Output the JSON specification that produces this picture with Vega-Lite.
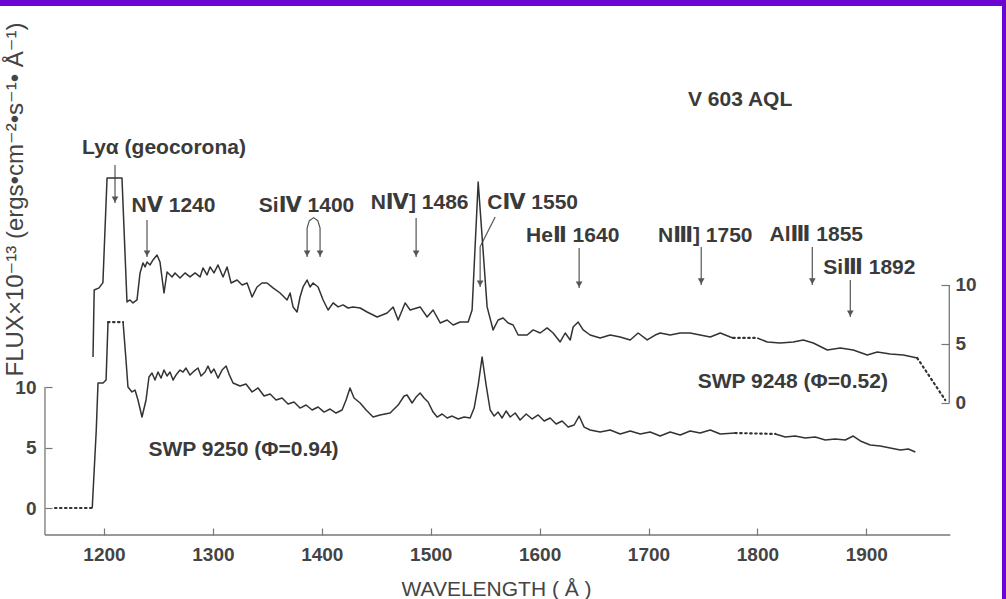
{
  "$schema": "https://vega.github.io/schema/vega-lite/v6.json",
  "width": 1002,
  "height": 593,
  "autosize": {"type": "none"},
  "padding": {"left": 0, "top": 6, "right": 4, "bottom": 0},
  "background": "#6a05d2",
  "config": {
    "view": {"fill": "white", "stroke": null},
    "font": "Liberation Sans, DejaVu Sans, Noto Sans CJK JP"
  },
  "datasets": {
    "lower": [
      {"seg": "a", "k": "d", "wl": 1155.0, "f": 0},
      {"seg": "a", "k": "d", "wl": 1189.2, "f": 0},
      {"seg": "b", "k": "s", "wl": 1189.2, "f": 0},
      {"seg": "b", "k": "s", "wl": 1192.9, "f": 6.45},
      {"seg": "b", "k": "s", "wl": 1194.5, "f": 10.33},
      {"seg": "b", "k": "s", "wl": 1199.1, "f": 10.33},
      {"seg": "b", "k": "s", "wl": 1201.9, "f": 10.58},
      {"seg": "b", "k": "s", "wl": 1203.7, "f": 15.37},
      {"seg": "c", "k": "d", "wl": 1203.7, "f": 15.37},
      {"seg": "c", "k": "d", "wl": 1217.5, "f": 15.37},
      {"seg": "e", "k": "s", "wl": 1217.5, "f": 15.37},
      {"seg": "e", "k": "s", "wl": 1220.2, "f": 12.23},
      {"seg": "e", "k": "s", "wl": 1222.0, "f": 10.0},
      {"seg": "e", "k": "s", "wl": 1225.7, "f": 9.59},
      {"seg": "e", "k": "s", "wl": 1228.5, "f": 9.75},
      {"seg": "e", "k": "s", "wl": 1231.2, "f": 8.93},
      {"seg": "e", "k": "s", "wl": 1234.9, "f": 7.52},
      {"seg": "e", "k": "s", "wl": 1238.6, "f": 8.93},
      {"seg": "e", "k": "s", "wl": 1241.3, "f": 10.83},
      {"seg": "e", "k": "s", "wl": 1244.1, "f": 11.16},
      {"seg": "e", "k": "s", "wl": 1246.8, "f": 10.58},
      {"seg": "e", "k": "s", "wl": 1249.6, "f": 11.24},
      {"seg": "e", "k": "s", "wl": 1252.4, "f": 10.74},
      {"seg": "e", "k": "s", "wl": 1255.1, "f": 11.40},
      {"seg": "e", "k": "s", "wl": 1257.9, "f": 10.91},
      {"seg": "e", "k": "s", "wl": 1260.6, "f": 11.24},
      {"seg": "e", "k": "s", "wl": 1263.4, "f": 10.58},
      {"seg": "e", "k": "s", "wl": 1266.1, "f": 10.99},
      {"seg": "e", "k": "s", "wl": 1269.8, "f": 11.40},
      {"seg": "e", "k": "s", "wl": 1272.6, "f": 11.24},
      {"seg": "e", "k": "s", "wl": 1275.3, "f": 11.57},
      {"seg": "e", "k": "s", "wl": 1279.0, "f": 10.99},
      {"seg": "e", "k": "s", "wl": 1282.7, "f": 11.32},
      {"seg": "e", "k": "s", "wl": 1286.3, "f": 11.57},
      {"seg": "e", "k": "s", "wl": 1289.1, "f": 10.91},
      {"seg": "e", "k": "s", "wl": 1292.8, "f": 11.24},
      {"seg": "e", "k": "s", "wl": 1295.5, "f": 11.73},
      {"seg": "e", "k": "s", "wl": 1298.3, "f": 11.16},
      {"seg": "e", "k": "s", "wl": 1301.0, "f": 11.49},
      {"seg": "e", "k": "s", "wl": 1304.7, "f": 10.74},
      {"seg": "e", "k": "s", "wl": 1308.4, "f": 11.40},
      {"seg": "e", "k": "s", "wl": 1312.1, "f": 11.73},
      {"seg": "e", "k": "s", "wl": 1314.8, "f": 11.07},
      {"seg": "e", "k": "s", "wl": 1318.5, "f": 10.33},
      {"seg": "e", "k": "s", "wl": 1324.9, "f": 10.08},
      {"seg": "e", "k": "s", "wl": 1330.4, "f": 10.25},
      {"seg": "e", "k": "s", "wl": 1336.0, "f": 9.59},
      {"seg": "e", "k": "s", "wl": 1341.5, "f": 9.92},
      {"seg": "e", "k": "s", "wl": 1347.0, "f": 9.26},
      {"seg": "e", "k": "s", "wl": 1352.5, "f": 9.42},
      {"seg": "e", "k": "s", "wl": 1358.0, "f": 8.93},
      {"seg": "e", "k": "s", "wl": 1363.5, "f": 9.09},
      {"seg": "e", "k": "s", "wl": 1369.0, "f": 8.59},
      {"seg": "e", "k": "s", "wl": 1374.5, "f": 8.76},
      {"seg": "e", "k": "s", "wl": 1380.0, "f": 8.26},
      {"seg": "e", "k": "s", "wl": 1385.6, "f": 8.51},
      {"seg": "e", "k": "s", "wl": 1391.1, "f": 8.10},
      {"seg": "e", "k": "s", "wl": 1396.6, "f": 8.35},
      {"seg": "e", "k": "s", "wl": 1402.1, "f": 7.93},
      {"seg": "e", "k": "s", "wl": 1407.6, "f": 8.18},
      {"seg": "e", "k": "s", "wl": 1413.1, "f": 7.85},
      {"seg": "e", "k": "s", "wl": 1418.6, "f": 8.10},
      {"seg": "e", "k": "s", "wl": 1422.3, "f": 8.93},
      {"seg": "e", "k": "s", "wl": 1425.9, "f": 9.92},
      {"seg": "e", "k": "s", "wl": 1429.6, "f": 9.09},
      {"seg": "e", "k": "s", "wl": 1435.2, "f": 8.68},
      {"seg": "e", "k": "s", "wl": 1440.7, "f": 8.10},
      {"seg": "e", "k": "s", "wl": 1447.1, "f": 7.52},
      {"seg": "e", "k": "s", "wl": 1453.5, "f": 7.69},
      {"seg": "e", "k": "s", "wl": 1462.7, "f": 7.85},
      {"seg": "e", "k": "s", "wl": 1470.1, "f": 8.51},
      {"seg": "e", "k": "s", "wl": 1475.6, "f": 9.26},
      {"seg": "e", "k": "s", "wl": 1478.3, "f": 9.34},
      {"seg": "e", "k": "s", "wl": 1482.9, "f": 8.68},
      {"seg": "e", "k": "s", "wl": 1486.6, "f": 9.17},
      {"seg": "e", "k": "s", "wl": 1490.3, "f": 9.50},
      {"seg": "e", "k": "s", "wl": 1493.9, "f": 9.09},
      {"seg": "e", "k": "s", "wl": 1497.6, "f": 8.76},
      {"seg": "e", "k": "s", "wl": 1502.2, "f": 7.93},
      {"seg": "e", "k": "s", "wl": 1505.9, "f": 7.52},
      {"seg": "e", "k": "s", "wl": 1510.5, "f": 7.77},
      {"seg": "e", "k": "s", "wl": 1515.1, "f": 7.44},
      {"seg": "e", "k": "s", "wl": 1519.7, "f": 7.60},
      {"seg": "e", "k": "s", "wl": 1525.2, "f": 7.36},
      {"seg": "e", "k": "s", "wl": 1530.7, "f": 7.52},
      {"seg": "e", "k": "s", "wl": 1536.2, "f": 7.44},
      {"seg": "e", "k": "s", "wl": 1539.9, "f": 8.26},
      {"seg": "e", "k": "s", "wl": 1543.6, "f": 10.16},
      {"seg": "e", "k": "s", "wl": 1547.2, "f": 12.48},
      {"seg": "e", "k": "s", "wl": 1550.9, "f": 10.16},
      {"seg": "e", "k": "s", "wl": 1554.6, "f": 8.10},
      {"seg": "e", "k": "s", "wl": 1558.3, "f": 7.60},
      {"seg": "e", "k": "s", "wl": 1561.9, "f": 7.93},
      {"seg": "e", "k": "s", "wl": 1565.6, "f": 7.44},
      {"seg": "e", "k": "s", "wl": 1569.3, "f": 8.02},
      {"seg": "e", "k": "s", "wl": 1573.0, "f": 7.52},
      {"seg": "e", "k": "s", "wl": 1577.6, "f": 7.85},
      {"seg": "e", "k": "s", "wl": 1582.1, "f": 7.27},
      {"seg": "e", "k": "s", "wl": 1587.7, "f": 7.77},
      {"seg": "e", "k": "s", "wl": 1593.2, "f": 7.36},
      {"seg": "e", "k": "s", "wl": 1598.7, "f": 7.69},
      {"seg": "e", "k": "s", "wl": 1604.2, "f": 7.19},
      {"seg": "e", "k": "s", "wl": 1609.7, "f": 7.44},
      {"seg": "e", "k": "s", "wl": 1615.2, "f": 6.94},
      {"seg": "e", "k": "s", "wl": 1620.7, "f": 7.19},
      {"seg": "e", "k": "s", "wl": 1626.2, "f": 6.69},
      {"seg": "e", "k": "s", "wl": 1631.7, "f": 6.86},
      {"seg": "e", "k": "s", "wl": 1636.3, "f": 7.60},
      {"seg": "e", "k": "s", "wl": 1640.9, "f": 6.69},
      {"seg": "e", "k": "s", "wl": 1646.4, "f": 6.45},
      {"seg": "e", "k": "s", "wl": 1655.6, "f": 6.28},
      {"seg": "e", "k": "s", "wl": 1664.8, "f": 6.45},
      {"seg": "e", "k": "s", "wl": 1674.0, "f": 6.12},
      {"seg": "e", "k": "s", "wl": 1683.2, "f": 6.37},
      {"seg": "e", "k": "s", "wl": 1692.4, "f": 6.12},
      {"seg": "e", "k": "s", "wl": 1701.5, "f": 6.28},
      {"seg": "e", "k": "s", "wl": 1710.7, "f": 5.95},
      {"seg": "e", "k": "s", "wl": 1719.9, "f": 6.28},
      {"seg": "e", "k": "s", "wl": 1729.1, "f": 6.03},
      {"seg": "e", "k": "s", "wl": 1738.2, "f": 6.37},
      {"seg": "e", "k": "s", "wl": 1747.4, "f": 6.20},
      {"seg": "e", "k": "s", "wl": 1756.7, "f": 6.45},
      {"seg": "e", "k": "s", "wl": 1765.9, "f": 6.12},
      {"seg": "e", "k": "s", "wl": 1779.6, "f": 6.20},
      {"seg": "g", "k": "d", "wl": 1779.6, "f": 6.20},
      {"seg": "g", "k": "d", "wl": 1816.4, "f": 6.12},
      {"seg": "h", "k": "s", "wl": 1816.4, "f": 6.12},
      {"seg": "h", "k": "s", "wl": 1825.6, "f": 5.87},
      {"seg": "h", "k": "s", "wl": 1834.7, "f": 5.95},
      {"seg": "h", "k": "s", "wl": 1843.9, "f": 5.78},
      {"seg": "h", "k": "s", "wl": 1853.1, "f": 5.87},
      {"seg": "h", "k": "s", "wl": 1862.3, "f": 5.62},
      {"seg": "h", "k": "s", "wl": 1871.5, "f": 5.70},
      {"seg": "h", "k": "s", "wl": 1880.7, "f": 5.62},
      {"seg": "h", "k": "s", "wl": 1888.0, "f": 5.95},
      {"seg": "h", "k": "s", "wl": 1894.5, "f": 5.54},
      {"seg": "h", "k": "s", "wl": 1903.6, "f": 5.21},
      {"seg": "h", "k": "s", "wl": 1912.8, "f": 5.12},
      {"seg": "h", "k": "s", "wl": 1922.0, "f": 4.96},
      {"seg": "h", "k": "s", "wl": 1931.2, "f": 4.79},
      {"seg": "h", "k": "s", "wl": 1938.6, "f": 4.88},
      {"seg": "h", "k": "s", "wl": 1945.0, "f": 4.63}
    ],
    "upper": [
      {"seg": "a", "k": "s", "wl": 1189.9, "f": 3.90},
      {"seg": "a", "k": "s", "wl": 1191.0, "f": 9.58},
      {"seg": "a", "k": "s", "wl": 1195.5, "f": 9.75},
      {"seg": "a", "k": "s", "wl": 1199.0, "f": 10.2},
      {"seg": "a", "k": "s", "wl": 1202.8, "f": 19.07},
      {"seg": "a", "k": "s", "wl": 1216.5, "f": 19.07},
      {"seg": "a", "k": "s", "wl": 1221.1, "f": 8.56},
      {"seg": "a", "k": "s", "wl": 1223.9, "f": 8.73},
      {"seg": "a", "k": "s", "wl": 1226.6, "f": 8.48},
      {"seg": "a", "k": "s", "wl": 1230.3, "f": 8.73},
      {"seg": "a", "k": "s", "wl": 1233.1, "f": 11.02},
      {"seg": "a", "k": "s", "wl": 1235.8, "f": 11.87},
      {"seg": "a", "k": "s", "wl": 1237.7, "f": 11.53},
      {"seg": "a", "k": "s", "wl": 1239.5, "f": 11.95},
      {"seg": "a", "k": "s", "wl": 1242.3, "f": 11.70},
      {"seg": "a", "k": "s", "wl": 1245.0, "f": 12.12},
      {"seg": "a", "k": "s", "wl": 1248.7, "f": 12.54},
      {"seg": "a", "k": "s", "wl": 1251.4, "f": 11.95},
      {"seg": "a", "k": "s", "wl": 1255.1, "f": 9.32},
      {"seg": "a", "k": "s", "wl": 1257.9, "f": 11.10},
      {"seg": "a", "k": "s", "wl": 1262.5, "f": 10.68},
      {"seg": "a", "k": "s", "wl": 1265.2, "f": 11.02},
      {"seg": "a", "k": "s", "wl": 1269.8, "f": 10.59},
      {"seg": "a", "k": "s", "wl": 1274.4, "f": 11.02},
      {"seg": "a", "k": "s", "wl": 1279.0, "f": 10.68},
      {"seg": "a", "k": "s", "wl": 1283.6, "f": 11.02},
      {"seg": "a", "k": "s", "wl": 1288.2, "f": 10.68},
      {"seg": "a", "k": "s", "wl": 1290.9, "f": 11.44},
      {"seg": "a", "k": "s", "wl": 1294.6, "f": 10.85},
      {"seg": "a", "k": "s", "wl": 1297.4, "f": 11.53},
      {"seg": "a", "k": "s", "wl": 1301.0, "f": 11.02},
      {"seg": "a", "k": "s", "wl": 1304.7, "f": 11.70},
      {"seg": "a", "k": "s", "wl": 1309.3, "f": 10.68},
      {"seg": "a", "k": "s", "wl": 1313.0, "f": 11.53},
      {"seg": "a", "k": "s", "wl": 1316.7, "f": 10.17},
      {"seg": "a", "k": "s", "wl": 1322.2, "f": 10.42},
      {"seg": "a", "k": "s", "wl": 1326.8, "f": 10.00},
      {"seg": "a", "k": "s", "wl": 1331.4, "f": 10.17},
      {"seg": "a", "k": "s", "wl": 1336.0, "f": 8.98},
      {"seg": "a", "k": "s", "wl": 1340.5, "f": 9.83},
      {"seg": "a", "k": "s", "wl": 1345.1, "f": 10.17},
      {"seg": "a", "k": "s", "wl": 1349.7, "f": 10.17},
      {"seg": "a", "k": "s", "wl": 1355.2, "f": 9.75},
      {"seg": "a", "k": "s", "wl": 1361.7, "f": 9.32},
      {"seg": "a", "k": "s", "wl": 1368.1, "f": 8.73},
      {"seg": "a", "k": "s", "wl": 1370.9, "f": 9.32},
      {"seg": "a", "k": "s", "wl": 1373.6, "f": 8.14},
      {"seg": "a", "k": "s", "wl": 1377.3, "f": 7.71},
      {"seg": "a", "k": "s", "wl": 1380.0, "f": 8.98},
      {"seg": "a", "k": "s", "wl": 1382.8, "f": 9.83},
      {"seg": "a", "k": "s", "wl": 1386.5, "f": 10.42},
      {"seg": "a", "k": "s", "wl": 1389.2, "f": 9.83},
      {"seg": "a", "k": "s", "wl": 1392.0, "f": 10.17},
      {"seg": "a", "k": "s", "wl": 1396.6, "f": 9.83},
      {"seg": "a", "k": "s", "wl": 1401.2, "f": 8.73},
      {"seg": "a", "k": "s", "wl": 1405.8, "f": 7.88},
      {"seg": "a", "k": "s", "wl": 1410.4, "f": 8.48},
      {"seg": "a", "k": "s", "wl": 1415.0, "f": 8.14},
      {"seg": "a", "k": "s", "wl": 1419.5, "f": 8.31},
      {"seg": "a", "k": "s", "wl": 1424.1, "f": 8.05},
      {"seg": "a", "k": "s", "wl": 1428.7, "f": 8.14},
      {"seg": "a", "k": "s", "wl": 1435.2, "f": 8.05},
      {"seg": "a", "k": "s", "wl": 1441.6, "f": 7.71},
      {"seg": "a", "k": "s", "wl": 1450.8, "f": 7.29},
      {"seg": "a", "k": "s", "wl": 1460.0, "f": 7.63},
      {"seg": "a", "k": "s", "wl": 1465.5, "f": 8.14},
      {"seg": "a", "k": "s", "wl": 1470.1, "f": 7.03},
      {"seg": "a", "k": "s", "wl": 1476.5, "f": 8.48},
      {"seg": "a", "k": "s", "wl": 1481.1, "f": 7.88},
      {"seg": "a", "k": "s", "wl": 1490.3, "f": 8.14},
      {"seg": "a", "k": "s", "wl": 1496.7, "f": 7.29},
      {"seg": "a", "k": "s", "wl": 1502.2, "f": 7.88},
      {"seg": "a", "k": "s", "wl": 1508.7, "f": 6.78},
      {"seg": "a", "k": "s", "wl": 1515.1, "f": 7.03},
      {"seg": "a", "k": "s", "wl": 1520.6, "f": 6.61},
      {"seg": "a", "k": "s", "wl": 1527.0, "f": 6.86},
      {"seg": "a", "k": "s", "wl": 1534.4, "f": 6.86},
      {"seg": "a", "k": "s", "wl": 1538.0, "f": 7.88},
      {"seg": "a", "k": "s", "wl": 1543.6, "f": 18.73},
      {"seg": "a", "k": "s", "wl": 1551.8, "f": 8.14},
      {"seg": "a", "k": "s", "wl": 1557.3, "f": 6.19},
      {"seg": "a", "k": "s", "wl": 1561.9, "f": 7.03},
      {"seg": "a", "k": "s", "wl": 1566.5, "f": 7.20},
      {"seg": "a", "k": "s", "wl": 1571.1, "f": 6.78},
      {"seg": "a", "k": "s", "wl": 1575.7, "f": 6.61},
      {"seg": "a", "k": "s", "wl": 1580.3, "f": 5.76},
      {"seg": "a", "k": "s", "wl": 1588.6, "f": 5.76},
      {"seg": "a", "k": "s", "wl": 1594.1, "f": 6.19},
      {"seg": "a", "k": "s", "wl": 1600.5, "f": 5.93},
      {"seg": "a", "k": "s", "wl": 1606.9, "f": 6.36},
      {"seg": "a", "k": "s", "wl": 1612.4, "f": 5.93},
      {"seg": "a", "k": "s", "wl": 1618.9, "f": 5.17},
      {"seg": "a", "k": "s", "wl": 1623.5, "f": 5.93},
      {"seg": "a", "k": "s", "wl": 1628.1, "f": 5.34},
      {"seg": "a", "k": "s", "wl": 1630.8, "f": 6.44},
      {"seg": "a", "k": "s", "wl": 1635.4, "f": 6.86},
      {"seg": "a", "k": "s", "wl": 1640.0, "f": 6.19},
      {"seg": "a", "k": "s", "wl": 1646.4, "f": 5.76},
      {"seg": "a", "k": "s", "wl": 1655.6, "f": 5.51},
      {"seg": "a", "k": "s", "wl": 1664.8, "f": 5.76},
      {"seg": "a", "k": "s", "wl": 1674.0, "f": 5.59},
      {"seg": "a", "k": "s", "wl": 1683.2, "f": 5.34},
      {"seg": "a", "k": "s", "wl": 1690.5, "f": 5.93},
      {"seg": "a", "k": "s", "wl": 1698.8, "f": 5.34},
      {"seg": "a", "k": "s", "wl": 1706.1, "f": 5.76},
      {"seg": "a", "k": "s", "wl": 1710.7, "f": 5.93},
      {"seg": "a", "k": "s", "wl": 1719.9, "f": 5.76},
      {"seg": "a", "k": "s", "wl": 1729.1, "f": 5.93},
      {"seg": "a", "k": "s", "wl": 1738.2, "f": 5.93},
      {"seg": "a", "k": "s", "wl": 1747.4, "f": 5.76},
      {"seg": "a", "k": "s", "wl": 1756.7, "f": 5.59},
      {"seg": "a", "k": "s", "wl": 1765.9, "f": 5.93},
      {"seg": "a", "k": "s", "wl": 1775.1, "f": 5.59},
      {"seg": "a", "k": "s", "wl": 1777.8, "f": 5.51},
      {"seg": "b", "k": "d", "wl": 1777.8, "f": 5.51},
      {"seg": "b", "k": "d", "wl": 1799.8, "f": 5.51},
      {"seg": "c", "k": "s", "wl": 1799.8, "f": 5.51},
      {"seg": "c", "k": "s", "wl": 1809.0, "f": 5.17},
      {"seg": "c", "k": "s", "wl": 1820.9, "f": 5.08},
      {"seg": "c", "k": "s", "wl": 1832.9, "f": 5.17},
      {"seg": "c", "k": "s", "wl": 1842.1, "f": 5.34},
      {"seg": "c", "k": "s", "wl": 1851.3, "f": 5.08},
      {"seg": "c", "k": "s", "wl": 1864.2, "f": 4.49},
      {"seg": "c", "k": "s", "wl": 1876.1, "f": 4.66},
      {"seg": "c", "k": "s", "wl": 1888.0, "f": 4.49},
      {"seg": "c", "k": "s", "wl": 1900.9, "f": 4.07},
      {"seg": "c", "k": "s", "wl": 1910.1, "f": 4.32},
      {"seg": "c", "k": "s", "wl": 1922.0, "f": 4.15},
      {"seg": "c", "k": "s", "wl": 1934.0, "f": 4.07},
      {"seg": "c", "k": "s", "wl": 1946.8, "f": 3.81},
      {"seg": "d", "k": "d", "wl": 1946.8, "f": 3.81},
      {"seg": "d", "k": "d", "wl": 1972.5, "f": 0.25}
    ],
    "axisX": [{"wl": 1145.8, "wl2": 1977.1, "f": -2.23}],
    "axisLeft": [{"wl": 1145.8, "f": -2.23, "f2": 10}],
    "axisRight": [{"wl": 1976.2, "f": 0, "f2": 10}],
    "labels": [
      {"wl": 1784.1, "f": 33.72, "t": "V 603 AQL"},
      {"wl": 1255.1, "f": 29.75, "t": "Lyα (geocorona)"},
      {"wl": 1263.8, "f": 24.96, "t": "NⅤ 1240"},
      {"wl": 1386.0, "f": 24.96, "t": "SiⅣ 1400"},
      {"wl": 1489.8, "f": 25.2, "t": "NⅣ] 1486"},
      {"wl": 1593.6, "f": 25.2, "t": "CⅣ 1550"},
      {"wl": 1630.4, "f": 22.48, "t": "HeⅡ 1640"},
      {"wl": 1752.1, "f": 22.48, "t": "NⅢ] 1750"},
      {"wl": 1854.1, "f": 22.56, "t": "AlⅢ 1855"},
      {"wl": 1902.8, "f": 19.83, "t": "SiⅢ 1892"},
      {"wl": 1832.5, "f": 10.41, "t": "SWP 9248 (Φ=0.52)"},
      {"wl": 1328.1, "f": 4.79, "t": "SWP 9250 (Φ=0.94)"}
    ],
    "shafts": [
      {"wl": 1210.1, "f": 28.35, "f2": 25.2},
      {"wl": 1239.5, "f": 23.8, "f2": 20.74},
      {"wl": 1386.5, "f": 23.14, "f2": 20.74},
      {"wl": 1398.4, "f": 23.14, "f2": 20.74},
      {"wl": 1486.6, "f": 23.97, "f2": 20.74},
      {"wl": 1545.4, "f": 21.6, "f2": 18.26},
      {"wl": 1636.3, "f": 21.49, "f2": 18.18},
      {"wl": 1748.4, "f": 21.57, "f2": 18.43},
      {"wl": 1850.4, "f": 21.57, "f2": 18.43},
      {"wl": 1885.3, "f": 18.84, "f2": 15.78}
    ],
    "bends": [
      {"id": "si4", "wl": 1386.5, "f": 23.14},
      {"id": "si4", "wl": 1388.6, "f": 23.75},
      {"id": "si4", "wl": 1392.5, "f": 24.0},
      {"id": "si4", "wl": 1396.3, "f": 23.75},
      {"id": "si4", "wl": 1398.4, "f": 23.14},
      {"id": "c4", "wl": 1559.2, "f": 24.05},
      {"id": "c4", "wl": 1545.4, "f": 21.6}
    ],
    "heads": [
      {"wl": 1210.1, "f": 25.5},
      {"wl": 1239.5, "f": 21.05},
      {"wl": 1386.5, "f": 21.05},
      {"wl": 1398.4, "f": 21.05},
      {"wl": 1486.6, "f": 21.05},
      {"wl": 1545.4, "f": 18.57},
      {"wl": 1636.3, "f": 18.49},
      {"wl": 1748.4, "f": 18.74},
      {"wl": 1850.4, "f": 18.74},
      {"wl": 1885.3, "f": 16.09}
    ]
  },
  "encoding": {
    "x": {
      "field": "wl",
      "type": "quantitative",
      "scale": {"domain": [1104.5, 2024.6], "nice": false, "zero": false},
      "axis": {
        "values": [1200, 1300, 1400, 1500, 1600, 1700, 1800, 1900],
        "format": "d",
        "offset": -64,
        "domain": false,
        "grid": false,
        "tickSize": -7,
        "tickColor": "#777",
        "tickWidth": 1.2,
        "labelPadding": 17,
        "labelFontSize": 19,
        "labelFontWeight": "bold",
        "labelColor": "#444",
        "title": "WAVELENGTH ( Å )",
        "titleFontSize": 21,
        "titleFontWeight": "normal",
        "titleColor": "#444",
        "titleX": 496,
        "titleY": 60,
        "titleAnchor": null,
        "titleAlign": "center",
        "titleBaseline": "alphabetic"
      }
    }
  },
  "layer": [
    {
      "encoding": {
        "y": {
          "field": "f",
          "type": "quantitative",
          "scale": {"domain": [-7.52, 41.49], "nice": false, "zero": false},
          "axis": {
            "orient": "left",
            "values": [0, 5, 10],
            "format": "d",
            "offset": -45,
            "domain": false,
            "grid": false,
            "tickSize": -7,
            "tickColor": "#777",
            "tickWidth": 1.2,
            "labelPadding": 16,
            "labelFontSize": 19,
            "labelFontWeight": "bold",
            "labelColor": "#444",
            "title": "FLUX×10⁻¹³ (ergs•cm⁻²•s⁻¹• Å⁻¹)",
            "titleFontSize": 24,
            "titleFontWeight": "normal",
            "titleColor": "#444",
            "titleAngle": -90,
            "titleX": -30,
            "titleY": 193,
            "titleAnchor": null,
            "titleAlign": "center",
            "titleBaseline": "middle"
          }
        }
      },
      "layer": [
        {
          "data": {"name": "axisX"},
          "mark": {"type": "rule", "color": "#777", "strokeWidth": 1.3},
          "encoding": {"x2": {"field": "wl2"}}
        },
        {
          "data": {"name": "axisLeft"},
          "mark": {"type": "rule", "color": "#777", "strokeWidth": 1.3},
          "encoding": {"y2": {"field": "f2"}}
        },
        {
          "data": {"name": "lower"},
          "transform": [{"filter": "datum.k == 's'"}],
          "mark": {"type": "line", "color": "#333", "strokeWidth": 1.5, "strokeJoin": "round"},
          "encoding": {"detail": {"field": "seg"}, "order": {"value": null}}
        },
        {
          "data": {"name": "lower"},
          "transform": [{"filter": "datum.k == 'd'"}],
          "mark": {"type": "line", "color": "#333", "strokeWidth": 2.2, "strokeDash": [1.5, 3.5], "strokeCap": "round"},
          "encoding": {"detail": {"field": "seg"}, "order": {"value": null}}
        },
        {
          "data": {"name": "shafts"},
          "mark": {"type": "rule", "color": "#555", "strokeWidth": 1.2},
          "encoding": {"y2": {"field": "f2"}}
        },
        {
          "data": {"name": "bends"},
          "mark": {"type": "line", "color": "#555", "strokeWidth": 1.2},
          "encoding": {"detail": {"field": "id"}, "order": {"value": null}}
        },
        {
          "data": {"name": "heads"},
          "mark": {"type": "point", "shape": "triangle-down", "filled": true, "color": "#555", "size": 45, "opacity": 1}
        },
        {
          "data": {"name": "labels"},
          "mark": {"type": "text", "fontSize": 21, "fontWeight": "bold", "color": "#3a3a3a", "align": "center", "baseline": "middle"},
          "encoding": {"text": {"field": "t"}}
        }
      ]
    },
    {
      "encoding": {
        "y": {
          "field": "f",
          "type": "quantitative",
          "scale": {"domain": [-16.61, 33.64], "nice": false, "zero": false},
          "axis": {
            "orient": "right",
            "values": [0, 5, 10],
            "format": "d",
            "offset": -53,
            "domain": false,
            "grid": false,
            "tickSize": -8,
            "tickColor": "#777",
            "tickWidth": 1.2,
            "labelPadding": 14,
            "labelFontSize": 19,
            "labelFontWeight": "bold",
            "labelColor": "#444",
            "title": null
          }
        }
      },
      "layer": [
        {
          "data": {"name": "axisRight"},
          "mark": {"type": "rule", "color": "#777", "strokeWidth": 1.3},
          "encoding": {"y2": {"field": "f2"}}
        },
        {
          "data": {"name": "upper"},
          "transform": [{"filter": "datum.k == 's'"}],
          "mark": {"type": "line", "color": "#333", "strokeWidth": 1.5, "strokeJoin": "round"},
          "encoding": {"detail": {"field": "seg"}, "order": {"value": null}}
        },
        {
          "data": {"name": "upper"},
          "transform": [{"filter": "datum.k == 'd'"}],
          "mark": {"type": "line", "color": "#333", "strokeWidth": 2.2, "strokeDash": [1.5, 3.5], "strokeCap": "round"},
          "encoding": {"detail": {"field": "seg"}, "order": {"value": null}}
        }
      ]
    }
  ],
  "resolve": {"scale": {"y": "independent"}}
}
